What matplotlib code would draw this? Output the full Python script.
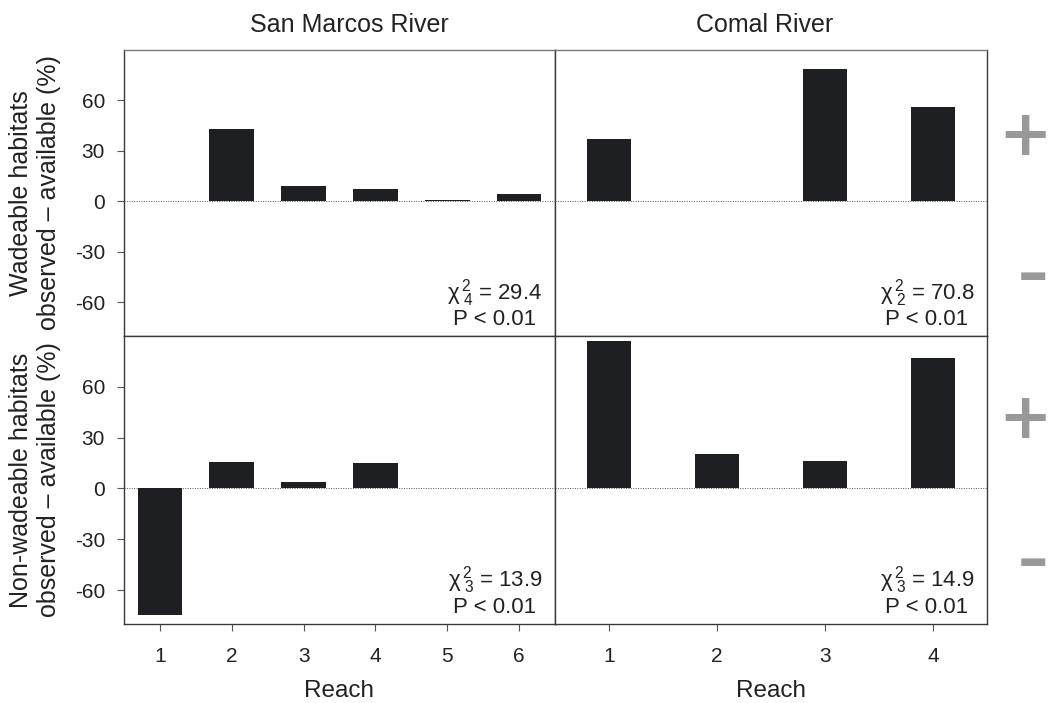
import numpy as np
import matplotlib
matplotlib.use('Agg')
import matplotlib.pyplot as plt

plt.rcParams['font.family'] = ['Liberation Sans', 'DejaVu Sans']
plt.rcParams['mathtext.fontset'] = 'custom'
plt.rcParams['mathtext.rm'] = 'Liberation Sans'
plt.rcParams['mathtext.it'] = 'Liberation Sans'
plt.rcParams['axes.unicode_minus'] = False

# %% data
rivers = ['San Marcos River', 'Comal River']
sm_reach = [1, 2, 3, 4, 5, 6]
comal_reach = [1, 2, 3, 4]
sm_wade = [0, 43.3, 9.4, 7.2, 0.6, 4.7]
comal_wade = [37, 0, 79, 56.2]
sm_nonwade = [-74.8, 15.7, 4.1, 15.1, 0, 0]
comal_nonwade = [86.8, 20.1, 16.5, 76.8]
chi_df = [[4, 2], [3, 3]]
chi_val = [[29.4, 70.8], [13.9, 14.9]]
ylabels = ['Wadeable habitats\nobserved \u2013 available (%)',
           'Non-wadeable habitats\nobserved \u2013 available (%)']

dark = '#1e1f22'
txt = '#222222'
W, H = 1050, 703

fig = plt.figure(figsize=(10.5, 7.03), dpi=100)
x0, xm, x1 = 124 / W, 555 / W, 987 / W
y0, ym, y1 = 1 - 624 / H, 1 - 336 / H, 1 - 50 / H

data = [[(sm_reach, sm_wade), (comal_reach, comal_wade)],
        [(sm_reach, sm_nonwade), (comal_reach, comal_nonwade)]]
xlims = [(0.5, 6.5), (0.5, 4.5)]
widths = [0.62, 0.41]
title_x = [349, 764.5]

for r in range(2):
    for c in range(2):
        left = x0 if c == 0 else xm
        w = (xm - x0) if c == 0 else (x1 - xm)
        bottom = ym if r == 0 else y0
        h = (y1 - ym) if r == 0 else (ym - y0)
        ax = fig.add_axes([left, bottom, w, h])
        xs, ys = data[r][c]
        ax.bar(xs, ys, width=widths[c], color=dark, zorder=3)
        ax.axhline(0, ls=(0, (1, 1.5)), lw=0.7, color='#555555', zorder=2)
        ax.set_xlim(*xlims[c])
        ax.set_ylim(-80, 90)
        ax.set_xticks(xs)
        ax.set_yticks([-60, -30, 0, 30, 60])
        for s in ax.spines.values():
            s.set_color('#3a3a3a')
            s.set_linewidth(1.0)
        if r == 0:
            ax.spines['top'].set_color('#777777')
        ax.tick_params(direction='out', length=5, color='#555555',
                       labelsize=15, labelcolor=txt)
        ax.tick_params(axis='y', pad=8.6)
        ax.tick_params(axis='x', pad=11.5)
        if r == 0:
            ax.tick_params(labelbottom=False)
            fig.text(title_x[c] / W, 1 - 32 / H, rivers[c], ha='center',
                     va='baseline', fontsize=18, color=txt)
        else:
            ax.set_xlabel('Reach', fontsize=17.5, color=txt, labelpad=10)
        if c == 0:
            ax.set_ylabel(ylabels[r], fontsize=18, color=txt, labelpad=10)
        else:
            ax.tick_params(axis='y', left=False, labelleft=False)
        cx = (495 - 124) / 431 if c == 0 else (927 - 555) / 432
        ax.text(cx, 0.129,
                r'$\chi^{\,2}_{\,\,%d}$ = %.1f' % (chi_df[r][c], chi_val[r][c]),
                transform=ax.transAxes, ha='center', va='baseline',
                fontsize=16, color=txt)
        ax.text(cx, 0.0385, 'P < 0.01', transform=ax.transAxes,
                ha='center', va='baseline', fontsize=16, color=txt)

# + / - side signs
for yc in [137, 420]:
    fig.text(1025 / W, 1 - yc / H, '+', ha='center', va='center',
             fontsize=46, color='#999999', fontweight='bold',
             family='DejaVu Sans')
for yc in [276, 562]:
    fig.text(1033 / W, 1 - yc / H, '\u2013', ha='center', va='center',
             fontsize=44, color='#999999', fontweight='bold',
             family='DejaVu Sans')

fig.savefig('out.png', dpi=100)
